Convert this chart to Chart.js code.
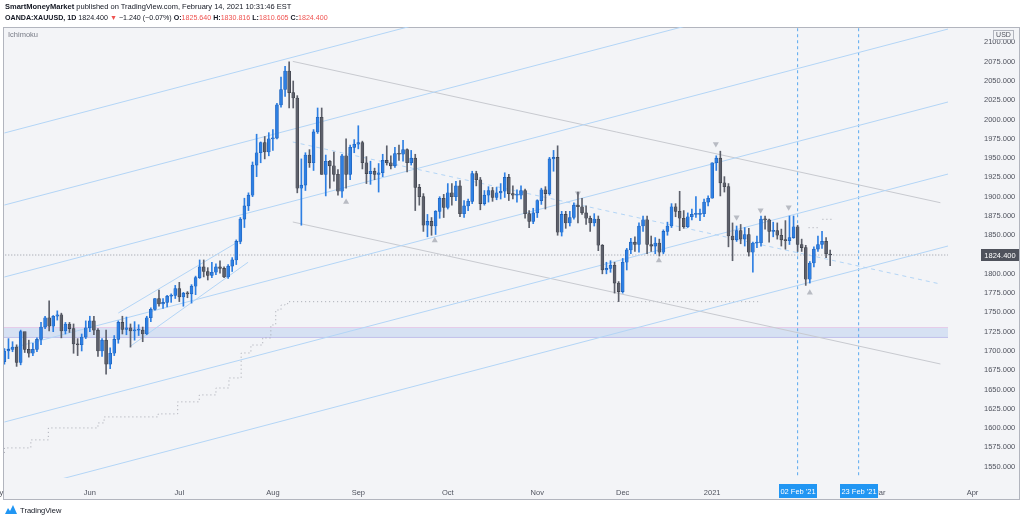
<!DOCTYPE html>
<html>
<head>
<meta charset="utf-8">
<script src="https://cdn.jsdelivr.net/npm/chart.js@4.4.1/dist/chart.umd.min.js"></script>
<style>
  html, body { margin: 0; padding: 0; background: #fff; width: 1024px; height: 521px; overflow: hidden; }
  body { font-family: "Liberation Sans", Arial, sans-serif; color: #131722; }
  #wrap { position: absolute; left: 0; top: 0; width: 1024px; height: 521px; }
  .txt { position: absolute; white-space: nowrap; font-size: 7.5px; line-height: 10px; }
  .red { color: #ef5350; }
  b { font-weight: bold; }
</style>
</head>
<body>
<div id="wrap"><canvas id="chart" width="1024" height="521"></canvas></div>
<div class="txt" style="left:5px;top:2px;"><b>SmartMoneyMarket</b> published on TradingView.com, February 14, 2021 10:31:46 EST</div>
<div class="txt" style="left:5px;top:13px;font-size:7.1px;"><b>OANDA:XAUUSD, 1D</b> 1824.400 <span class="red">▼</span> −1.240 (−0.07%) <b>O:</b><span class="red">1825.640</span> <b>H:</b><span class="red">1830.816</span> <b>L:</b><span class="red">1810.605</span> <b>C:</b><span class="red">1824.400</span></div>
<div class="txt" style="left:8px;top:30px;color:#787b86;">Ichimoku</div>
<div class="txt" style="left:5px;top:505px;">
  <svg width="12" height="9" viewBox="0 0 12 9" style="vertical-align:-1px"><path d="M0 9 L3 3 L5 6 L8 0 L12 9 Z" fill="#2196f3"/></svg>
  <span style="margin-left:1px;">TradingView</span>
</div>
<script>
// trading day index 0 = 1 May 2020, last bar = 12 Feb 2021
const opens = [
  1686,1700,1702,1705,1685,1725,1702,1697,1702,1715,1731,1743,1732,1745,1747,1726,1735,1729,1709,1708,1718,
  1730,1739,1727,1700,1714,1683,1697,1715,1737,1728,1730,1726,1727,1727,1722,1743,1754,1768,1761,1763,1771,1772,
  1781,1770,1775,1774,1784,1795,1809,1803,1798,1802,1809,1807,1796,1810,1818,1842,1871,1888,1902,1941,1957,1970,1958,
  1975,1976,2019,2039,2063,2035,2028,1911,1915,1954,1944,1984,2003,1929,1946,1940,1929,1907,1953,1929,1964,
  1968,1970,1944,1930,1933,1929,1931,1947,1944,1940,1956,1955,1961,1944,1950,1912,1900,1863,1868,1862,1881,1898,
  1886,1905,1900,1914,1878,1888,1894,1930,1922,1891,1902,1908,1899,1905,1907,1925,1904,1902,1902,1908,1878,1868,
  1879,1895,1909,1904,1949,1951,1854,1877,1866,1873,1889,1887,1879,1872,1866,1871,1837,1805,1807,1811,1788,
  1777,1815,1831,1841,1838,1862,1870,1838,1836,1840,1828,1855,1862,1887,1881,1872,1861,1874,1877,1877,1878,1893,
  1898,1944,1950,1918,1913,1849,1844,1856,1845,1851,1828,1840,1840,1871,1870,1855,1856,1850,1844,1843,
  1847,1861,1838,1834,1793,1814,1832,1838,1842,1825.64
];
const highs = [
  1703,1716,1712,1708,1727,1722,1714,1710,1717,1737,1745,1765,1746,1752,1749,1737,1737,1735,1716,1722,1739,
  1745,1745,1729,1716,1727,1704,1720,1739,1745,1744,1735,1738,1734,1731,1745,1756,1768,1779,1768,1772,1774,1785,
  1789,1776,1777,1786,1797,1818,1818,1808,1815,1813,1817,1809,1812,1821,1844,1873,1898,1905,1945,1981,1971,1978,1983,
  1987,2021,2055,2069,2075,2050,2031,1949,1957,1961,1987,2015,2015,1954,1947,1958,1935,1955,1975,1967,1974,
  1992,1972,1952,1946,1937,1943,1955,1966,1953,1964,1967,1973,1962,1960,1955,1916,1904,1877,1873,1882,1900,1903,
  1917,1917,1920,1921,1895,1897,1933,1933,1925,1908,1913,1912,1912,1917,1931,1929,1914,1909,1914,1910,1882,1885,
  1896,1911,1913,1951,1960,1966,1881,1881,1881,1892,1906,1898,1888,1875,1878,1875,1838,1815,1817,1815,1790,
  1820,1833,1846,1848,1866,1875,1875,1849,1847,1845,1857,1867,1891,1891,1907,1882,1879,1884,1900,1884,1897,1901,
  1944,1953,1959,1926,1917,1866,1862,1864,1860,1859,1841,1849,1875,1875,1871,1867,1866,1858,1869,1875,
  1875,1863,1845,1837,1816,1835,1849,1855,1847,1830.816
];
const lows = [
  1683,1690,1699,1680,1682,1698,1692,1694,1699,1708,1729,1726,1725,1740,1717,1722,1724,1697,1694,1700,1716,
  1725,1721,1693,1693,1670,1677,1694,1710,1722,1721,1705,1714,1720,1712,1721,1738,1753,1758,1755,1757,1763,1768,
  1764,1758,1769,1762,1773,1794,1796,1792,1795,1799,1801,1795,1794,1803,1812,1839,1860,1882,1900,1926,1944,1949,1953,
  1960,1975,2016,2030,2015,2015,1905,1863,1908,1938,1934,1982,1929,1901,1911,1920,1902,1899,1911,1922,1957,
  1962,1936,1917,1916,1922,1906,1926,1941,1936,1938,1947,1946,1932,1941,1882,1889,1855,1848,1850,1851,1872,1873,
  1884,1889,1895,1874,1873,1882,1891,1914,1883,1889,1893,1894,1896,1897,1899,1895,1897,1893,1897,1872,1860,1865,
  1873,1890,1884,1902,1933,1850,1849,1859,1862,1871,1866,1877,1864,1855,1862,1830,1800,1800,1802,1775,1764,
  1775,1805,1826,1829,1828,1855,1826,1829,1826,1823,1826,1850,1860,1874,1856,1859,1860,1870,1873,1869,1874,1888,
  1898,1934,1901,1906,1835,1817,1842,1839,1836,1823,1802,1834,1836,1858,1841,1848,1845,1836,1832,1838,
  1846,1829,1829,1785,1788,1809,1829,1833,1821,1810.605
];
const closes = [
  1700,1702,1705,1685,1725,1702,1697,1702,1715,1731,1743,1732,1745,1747,1726,1735,1729,1709,1708,1718,1730,
  1739,1727,1700,1714,1683,1697,1715,1737,1728,1730,1726,1727,1727,1722,1743,1754,1768,1761,1763,1771,1772,1781,
  1770,1775,1774,1784,1795,1809,1803,1798,1802,1809,1807,1796,1810,1818,1842,1871,1888,1902,1941,1957,1970,1958,1975,
  1976,2019,2039,2063,2035,2028,1911,1915,1954,1944,1984,2003,1929,1946,1940,1929,1907,1953,1929,1964,1968,
  1970,1944,1930,1933,1929,1931,1947,1944,1940,1956,1955,1961,1944,1950,1912,1900,1863,1868,1862,1881,1898,1886,
  1905,1900,1914,1878,1888,1894,1930,1922,1891,1902,1908,1899,1905,1907,1925,1904,1902,1902,1908,1878,1868,1879,
  1895,1909,1904,1949,1951,1854,1877,1866,1873,1889,1887,1879,1872,1866,1871,1837,1805,1807,1811,1788,1777,
  1815,1831,1841,1838,1862,1870,1838,1836,1840,1828,1855,1862,1887,1881,1872,1861,1874,1877,1877,1878,1893,1898,
  1944,1950,1918,1913,1849,1844,1856,1845,1851,1828,1840,1840,1871,1870,1855,1856,1850,1844,1843,1847,
  1861,1838,1834,1793,1814,1832,1838,1842,1826,1824.4
];
const lastClose = 1824.4;

// time axis: bar index of each month label
const monthTicks = [-2, 21, 43, 66, 87, 109, 131, 152, 174, 194, 215, 238];
const monthLabels = ['May', 'Jun', 'Jul', 'Aug', 'Sep', 'Oct', 'Nov', 'Dec', '2021', 'Feb', 'Mar', 'Apr'];
const priceTicks = [1550, 1575, 1600, 1625, 1650, 1675, 1700, 1725, 1750, 1775, 1800, 1825, 1850, 1875,
  1900, 1925, 1950, 1975, 2000, 2025, 2050, 2075, 2100];

// rising parallel channel, value at bar 0 and bar 232
const channelStart = [1982.6, 1889.2, 1795.9, 1701.3, 1607.9, 1514.6];
const channelEnd = [2304.1, 2210.7, 2117.4, 2022.8, 1929.4, 1836.1];
// small summer channel
const summerUpper = [[28, 1749.2], [58.2, 1843.9]];
const summerLower = [[30.8, 1705.5], [59.9, 1815.0]];
// falling channel from the August top
const fallUpper = [[70.9, 2075.4], [230.1, 1892.2]];
const fallLower = [[70.9, 1867.2], [230.1, 1683.1]];
const fallMid = [[70.9, 1970.9], [230.1, 1786.8]];
// supply/demand zone
const zoneTop = 1730.4;
const zoneBottom = 1717.5;
// vertical markers
const markerBars = [195, 210];
const markerLabels = ["02 Feb '21", "23 Feb '21"];
// Ichimoku cloud line (steps)
const kumoX = [0, 6.5, 10.8, 23, 24.5, 37.8, 42.6, 47.9, 52, 55.2, 58.2, 60.6, 63.5, 65.5, 66.7, 68, 69, 69.7, 95.8, 186];
const kumoY = [1567.8, 1574.3, 1584.7, 1600.2, 1606.7, 1614.5, 1618.4, 1634, 1643, 1652, 1665, 1697.4, 1707.7, 1716.8,
  1733.7, 1753.1, 1759.6, 1761.3, 1763.9, 1763.9];
const kumoFuture1 = [[197.7, 1859.8], [200.3, 1859.8]];
const kumoFuture2 = [[201.1, 1870.7], [203.4, 1870.7]];
// pivot arrows
const downArrowX = [141, 174.9, 180, 185.9, 192.8];
const downArrowY = [1904.4, 1968.2, 1873.2, 1882.3, 1886.2];
const upArrowX = [84, 105.8, 160.9, 198];
const upArrowY = [1893.0, 1843.2, 1817.2, 1775.5];

const UP = '#2d7fe3', UP_EDGE = '#1f5fb5', DOWN = '#5d606b', DOWN_EDGE = '#3b3e47';
const FONT = '"Liberation Sans", Arial, sans-serif';
const isUp = closes.map((c, i) => c >= opens[i]);

const bodies = closes.map((c, i) => ({ x: i, y: [opens[i], c] }));
const wicks = closes.map((c, i) => ({ x: i, y: [lows[i], highs[i]] }));
const seg = (pts) => pts.map(p => ({ x: p[0], y: p[1] }));

function lineSet(data, color, extra) {
  return Object.assign({
    type: 'line', data, borderColor: color, borderWidth: 1, pointRadius: 0,
    fill: false, tension: 0, order: 5
  }, extra || {});
}

const datasets = [
  {
    type: 'bar', data: bodies, order: 1, grouped: false, barThickness: 3, minBarLength: 1,
    backgroundColor: isUp.map(u => u ? UP : DOWN),
    borderColor: isUp.map(u => u ? UP_EDGE : DOWN_EDGE), borderWidth: 0.6, borderSkipped: false
  },
  {
    type: 'bar', data: wicks, order: 2, grouped: false, barThickness: 1,
    backgroundColor: isUp.map(u => u ? UP : DOWN), borderWidth: 0
  }
];

channelStart.forEach((v, k) => {
  datasets.push(lineSet([{ x: 0, y: v }, { x: 232, y: channelEnd[k] }], '#b3d5f6'));
});
datasets.push(lineSet(seg(summerUpper), '#b3d5f6'));
datasets.push(lineSet(seg(summerLower), '#b3d5f6'));
datasets.push(lineSet(seg(fallUpper), '#c8cad0'));
datasets.push(lineSet(seg(fallLower), '#c8cad0'));
datasets.push(lineSet(seg(fallMid), '#b3d5f6', { borderDash: [4, 4] }));
// zone
datasets.push(lineSet([{ x: -2, y: zoneTop }, { x: 234, y: zoneTop }], '#e6cce9',
  { fill: '+1', backgroundColor: 'rgba(170,198,238,0.4)', order: 6 }));
datasets.push(lineSet([{ x: -2, y: zoneBottom }, { x: 234, y: zoneBottom }], '#c8c0ea', { order: 6 }));
// kumo
datasets.push(lineSet(kumoX.map((x, i) => ({ x, y: kumoY[i] })), '#a3a6af',
  { stepped: 'after', borderDash: [1, 3] }));
datasets.push(lineSet(seg(kumoFuture1), '#a3a6af', { borderDash: [1, 3] }));
datasets.push(lineSet(seg(kumoFuture2), '#a3a6af', { borderDash: [1, 3] }));
// last price line
datasets.push(lineSet([{ x: -2, y: lastClose }, { x: 234, y: lastClose }], '#9598a1', { borderDash: [1, 2] }));
// vertical markers
markerBars.forEach(b => {
  datasets.push(lineSet([{ x: b, y: 1500 }, { x: b, y: 2150 }], '#5aa9f0', { borderDash: [3, 3] }));
});
// arrows
datasets.push({
  type: 'line', showLine: false, order: 3,
  data: downArrowX.map((x, i) => ({ x, y: downArrowY[i] })),
  pointStyle: 'triangle', rotation: 180, pointRadius: 3.5,
  pointBackgroundColor: '#b8bbc3', pointBorderWidth: 0
});
datasets.push({
  type: 'line', showLine: false, order: 3,
  data: upArrowX.map((x, i) => ({ x, y: upArrowY[i] })),
  pointStyle: 'triangle', pointRadius: 3.5,
  pointBackgroundColor: '#b8bbc3', pointBorderWidth: 0
});

const framePlugin = {
  id: 'frame',
  beforeDraw(chart) {
    const ctx = chart.ctx;
    ctx.save();
    ctx.fillStyle = '#ffffff';
    ctx.fillRect(0, 0, chart.width, chart.height);
    ctx.fillStyle = '#f3f4f7';
    ctx.fillRect(3, 27, 1017, 473);
    ctx.strokeStyle = '#b2b5be';
    ctx.lineWidth = 1;
    ctx.strokeRect(3.5, 27.5, 1016, 472);
    ctx.restore();
  },
  afterDraw(chart) {
    const ctx = chart.ctx;
    const xs = chart.scales.x, ys = chart.scales.y;
    ctx.save();
    ctx.font = '7.5px ' + FONT;
    ctx.textBaseline = 'middle';
    ctx.textAlign = 'center';
    // last price tag
    const py = Math.round(ys.getPixelForValue(lastClose));
    ctx.fillStyle = '#4f525c';
    ctx.fillRect(981, py - 6, 38, 12);
    ctx.fillStyle = '#ffffff';
    ctx.fillText(lastClose.toFixed(3), 1000, py + 0.5);
    // currency box
    ctx.fillStyle = '#f3f4f7';
    ctx.fillRect(993, 30, 21, 10);
    ctx.strokeStyle = '#b2b5be';
    ctx.strokeRect(993.5, 30.5, 20, 9);
    ctx.fillStyle = '#50535e';
    ctx.font = '7px ' + FONT;
    ctx.fillText('USD', 1003.5, 35.5);
    // date tags
    ctx.font = '7.5px ' + FONT;
    markerBars.forEach((b, k) => {
      const px = Math.round(xs.getPixelForValue(b));
      ctx.fillStyle = '#2196f3';
      ctx.fillRect(px - 19, 484, 38, 14);
      ctx.fillStyle = '#ffffff';
      ctx.fillText(markerLabels[k], px, 491.5);
    });
    ctx.restore();
  }
};

new Chart(document.getElementById('chart'), {
  type: 'bar',
  data: { datasets },
  options: {
    responsive: false,
    animation: false,
    events: [],
    layout: { padding: { left: 3, top: 27, right: 4, bottom: 21 } },
    plugins: { legend: { display: false }, tooltip: { enabled: false } },
    scales: {
      x: {
        type: 'linear', min: -0.1, max: 231.97, offset: false,
        grid: { display: false, drawTicks: false }, border: { display: false },
        afterBuildTicks: s => { s.ticks = monthTicks.map(v => ({ value: v })); },
        afterFit: s => { s.height = 22; s.paddingLeft = 0; s.paddingRight = 0; },
        ticks: {
          autoSkip: false, maxRotation: 0, padding: 10, color: '#50535e',
          font: { size: 7.5, family: FONT },
          callback: (v) => { const k = monthTicks.indexOf(v); return k >= 0 ? monthLabels[k] : ''; }
        }
      },
      y: {
        type: 'linear', position: 'right', min: 1535.3, max: 2120,
        grid: { display: false, drawTicks: false }, border: { display: false },
        afterBuildTicks: s => { s.ticks = priceTicks.map(v => ({ value: v })); },
        afterFit: s => { s.width = 72; s.paddingTop = 0; s.paddingBottom = 0; },
        ticks: {
          padding: 36, color: '#50535e',
          font: { size: 7.5, family: FONT },
          callback: v => Number(v).toFixed(3)
        }
      }
    }
  },
  plugins: [framePlugin]
});
</script>
</body>
</html>
